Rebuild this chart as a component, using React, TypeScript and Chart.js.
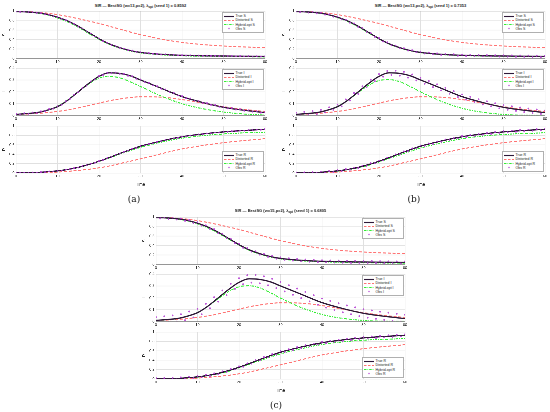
import React, { useEffect, useRef } from 'react';
import { Chart, registerables } from 'chart.js';

Chart.register(...registerables);

// knots of the smooth curves (time)
const curveTimes = [0, 2.5, 5, 7.5, 10, 12.5, 15, 17.5, 20, 22.5, 25, 27.5, 30, 35, 40, 45, 50, 55, 60];
// observation times
const obsTimes = [
  0, 1, 2, 3, 4, 5, 6, 7, 8, 9, 10, 11, 12, 13, 14, 15, 16, 17, 18, 19, 20,
  21, 22, 23, 24, 25, 26, 27, 28, 29, 30, 31, 32, 33, 34, 35, 36, 37, 38, 39, 40,
  41, 42, 43, 44, 45, 46, 47, 48, 49, 50, 51, 52, 53, 54, 55, 56, 57, 58, 59, 60,
];
const timeTicks = [0, 10, 20, 30, 40, 50, 60];

const trueS = [0.99, 0.982, 0.965, 0.93, 0.87, 0.79, 0.68, 0.55, 0.42, 0.31, 0.23, 0.17, 0.13, 0.09, 0.07, 0.06, 0.055, 0.05, 0.045];
const trueI = [0.01, 0.017, 0.025, 0.045, 0.075, 0.13, 0.2, 0.27, 0.33, 0.36, 0.355, 0.335, 0.3, 0.23, 0.16, 0.11, 0.07, 0.045, 0.025];
const trueR = [0, 0.003, 0.01, 0.025, 0.045, 0.075, 0.12, 0.18, 0.25, 0.33, 0.415, 0.495, 0.57, 0.68, 0.77, 0.83, 0.875, 0.905, 0.93];

const distortedS = [1.0, 0.99, 0.975, 0.955, 0.925, 0.885, 0.84, 0.79, 0.74, 0.68, 0.62, 0.56, 0.505, 0.41, 0.34, 0.295, 0.265, 0.245, 0.23];
const distortedI = [0.01, 0.013, 0.018, 0.025, 0.035, 0.048, 0.065, 0.085, 0.105, 0.125, 0.14, 0.152, 0.158, 0.155, 0.135, 0.105, 0.075, 0.052, 0.035];
const distortedR = [0, 0.002, 0.005, 0.01, 0.02, 0.035, 0.055, 0.08, 0.11, 0.15, 0.2, 0.25, 0.3, 0.41, 0.51, 0.585, 0.645, 0.69, 0.73];

const hybridS_a = [0.99, 0.98, 0.96, 0.92, 0.855, 0.77, 0.66, 0.53, 0.405, 0.3, 0.22, 0.16, 0.12, 0.08, 0.06, 0.05, 0.045, 0.04, 0.035];
const hybridI_a = [0.01, 0.017, 0.026, 0.046, 0.078, 0.133, 0.2, 0.265, 0.315, 0.33, 0.318, 0.285, 0.245, 0.165, 0.1, 0.058, 0.03, 0.013, 0.005];
const hybridR_a = [0, 0.003, 0.01, 0.025, 0.045, 0.075, 0.12, 0.175, 0.245, 0.32, 0.4, 0.475, 0.545, 0.655, 0.74, 0.795, 0.83, 0.855, 0.87];

const hybridS_b = [0.99, 0.98, 0.962, 0.925, 0.862, 0.778, 0.668, 0.54, 0.415, 0.305, 0.225, 0.165, 0.125, 0.085, 0.065, 0.055, 0.05, 0.045, 0.042];
const hybridI_b = [0.01, 0.016, 0.025, 0.045, 0.078, 0.13, 0.195, 0.255, 0.295, 0.303, 0.285, 0.245, 0.2, 0.12, 0.062, 0.028, 0.01, 0.003, 0.002];
const hybridR_b = [0, 0.003, 0.01, 0.022, 0.04, 0.07, 0.11, 0.165, 0.235, 0.31, 0.385, 0.46, 0.53, 0.64, 0.73, 0.785, 0.82, 0.84, 0.855];

const hybridS_c = [0.99, 0.979, 0.96, 0.922, 0.858, 0.772, 0.662, 0.535, 0.41, 0.3, 0.22, 0.16, 0.12, 0.08, 0.06, 0.048, 0.04, 0.035, 0.032];
const hybridI_c = [0.01, 0.016, 0.024, 0.044, 0.077, 0.128, 0.193, 0.253, 0.293, 0.302, 0.284, 0.244, 0.198, 0.118, 0.06, 0.027, 0.01, 0.003, 0.002];
const hybridR_c = [0, 0.003, 0.009, 0.022, 0.04, 0.07, 0.11, 0.165, 0.238, 0.315, 0.39, 0.465, 0.535, 0.645, 0.735, 0.79, 0.825, 0.845, 0.858];

const obsS_a = [0.995, 0.982, 0.99, 0.975, 0.978, 0.96, 0.957, 0.931, 0.922, 0.89, 0.874, 0.835, 0.811, 0.762, 0.73, 0.674, 0.634, 0.57, 0.528, 0.465, 0.425, 0.368, 0.334, 0.287, 0.263, 0.226, 0.209, 0.178, 0.168, 0.142, 0.134, 0.117, 0.117, 0.101, 0.1, 0.086, 0.09, 0.078, 0.081, 0.07, 0.073, 0.065, 0.069, 0.061, 0.065, 0.057, 0.062, 0.055, 0.06, 0.053, 0.058, 0.051, 0.056, 0.049, 0.054, 0.047, 0.052, 0.045, 0.05, 0.043, 0.048];
const obsI_a = [0.014, 0.009, 0.02, 0.015, 0.026, 0.021, 0.036, 0.037, 0.056, 0.059, 0.079, 0.091, 0.122, 0.141, 0.176, 0.196, 0.232, 0.252, 0.287, 0.304, 0.334, 0.341, 0.36, 0.356, 0.362, 0.351, 0.351, 0.335, 0.331, 0.31, 0.304, 0.282, 0.276, 0.254, 0.248, 0.226, 0.22, 0.198, 0.192, 0.17, 0.164, 0.146, 0.144, 0.126, 0.124, 0.106, 0.106, 0.09, 0.09, 0.074, 0.074, 0.061, 0.064, 0.051, 0.054, 0.041, 0.045, 0.033, 0.037, 0.025, 0.029];
const obsR_a = [0.004, 0.0, 0.006, 0.0, 0.011, 0.006, 0.02, 0.018, 0.034, 0.033, 0.049, 0.052, 0.073, 0.08, 0.105, 0.116, 0.147, 0.164, 0.199, 0.218, 0.254, 0.277, 0.318, 0.343, 0.385, 0.411, 0.451, 0.475, 0.514, 0.536, 0.574, 0.588, 0.618, 0.632, 0.662, 0.676, 0.702, 0.712, 0.738, 0.748, 0.774, 0.778, 0.798, 0.802, 0.822, 0.826, 0.843, 0.844, 0.861, 0.862, 0.879, 0.877, 0.891, 0.889, 0.903, 0.901, 0.914, 0.911, 0.924, 0.921, 0.934];

const obsS_b = [1.003, 0.975, 0.996, 0.968, 0.985, 0.952, 0.964, 0.925, 0.931, 0.881, 0.884, 0.826, 0.818, 0.755, 0.74, 0.667, 0.642, 0.562, 0.538, 0.457, 0.433, 0.36, 0.344, 0.279, 0.273, 0.217, 0.219, 0.17, 0.178, 0.133, 0.145, 0.108, 0.127, 0.092, 0.111, 0.077, 0.1, 0.069, 0.092, 0.061, 0.084, 0.055, 0.08, 0.051, 0.076, 0.047, 0.073, 0.045, 0.071, 0.043, 0.069, 0.041, 0.067, 0.039, 0.065, 0.037, 0.063, 0.035, 0.061, 0.033, 0.059];
const obsI_b = [0.025, 0.002, 0.031, 0.008, 0.038, 0.012, 0.048, 0.026, 0.07, 0.048, 0.092, 0.078, 0.136, 0.128, 0.19, 0.183, 0.247, 0.238, 0.302, 0.29, 0.35, 0.328, 0.375, 0.342, 0.378, 0.336, 0.368, 0.32, 0.346, 0.296, 0.318, 0.268, 0.291, 0.24, 0.263, 0.212, 0.234, 0.184, 0.206, 0.156, 0.178, 0.134, 0.158, 0.114, 0.138, 0.094, 0.12, 0.078, 0.104, 0.062, 0.088, 0.049, 0.078, 0.04, 0.068, 0.03, 0.059, 0.022, 0.051, 0.014, 0.043];
const obsR_b = [0.012, -0.01, 0.015, -0.008, 0.02, -0.003, 0.03, 0.008, 0.045, 0.022, 0.06, 0.041, 0.084, 0.069, 0.116, 0.105, 0.158, 0.153, 0.21, 0.207, 0.265, 0.266, 0.329, 0.332, 0.396, 0.4, 0.462, 0.464, 0.525, 0.525, 0.585, 0.577, 0.629, 0.621, 0.673, 0.665, 0.713, 0.701, 0.749, 0.737, 0.785, 0.767, 0.809, 0.791, 0.833, 0.815, 0.854, 0.833, 0.872, 0.851, 0.89, 0.866, 0.902, 0.878, 0.914, 0.89, 0.925, 0.9, 0.935, 0.91, 0.945];

const obsS_c = [1.008, 0.972, 1.001, 0.962, 0.99, 0.948, 0.97, 0.92, 0.938, 0.876, 0.892, 0.82, 0.826, 0.75, 0.746, 0.662, 0.65, 0.556, 0.545, 0.45, 0.44, 0.352, 0.35, 0.272, 0.28, 0.21, 0.226, 0.163, 0.185, 0.126, 0.152, 0.101, 0.134, 0.085, 0.118, 0.07, 0.107, 0.062, 0.099, 0.054, 0.091, 0.048, 0.087, 0.044, 0.083, 0.04, 0.08, 0.037, 0.078, 0.035, 0.076, 0.034, 0.074, 0.032, 0.072, 0.03, 0.07, 0.028, 0.068, 0.026, 0.066];
const obsI_c = [0.038, -0.01, 0.045, -0.004, 0.052, 0.0, 0.062, 0.012, 0.085, 0.035, 0.108, 0.062, 0.15, 0.112, 0.205, 0.168, 0.262, 0.222, 0.318, 0.275, 0.365, 0.315, 0.39, 0.328, 0.392, 0.322, 0.381, 0.305, 0.36, 0.282, 0.334, 0.254, 0.306, 0.226, 0.278, 0.198, 0.25, 0.17, 0.222, 0.142, 0.194, 0.118, 0.174, 0.098, 0.154, 0.078, 0.136, 0.062, 0.12, 0.046, 0.104, 0.033, 0.094, 0.024, 0.084, 0.014, 0.075, 0.006, 0.066, 0.0, 0.058];
const obsR_c = [0.018, -0.016, 0.02, -0.012, 0.026, -0.008, 0.035, 0.004, 0.05, 0.018, 0.066, 0.036, 0.09, 0.064, 0.121, 0.1, 0.163, 0.148, 0.215, 0.202, 0.27, 0.261, 0.334, 0.327, 0.401, 0.395, 0.467, 0.459, 0.53, 0.52, 0.59, 0.572, 0.634, 0.616, 0.678, 0.66, 0.718, 0.696, 0.754, 0.732, 0.79, 0.762, 0.814, 0.786, 0.838, 0.81, 0.859, 0.828, 0.877, 0.846, 0.895, 0.861, 0.907, 0.873, 0.919, 0.885, 0.93, 0.895, 0.94, 0.905, 0.95];

const FONT = "'Liberation Sans', Arial, sans-serif";
const COLORS = {
  truth: '#2e1838',
  distorted: '#ff7373',
  hybrid: '#33ee33',
  obs: 'rgba(180, 60, 210, 0.85)',
};

const PAD_L = 16;
const PAD_T = 4;
const PAD_R = 6;

type Comp = 'S' | 'I' | 'R';

interface SubplotProps {
  left: number;
  top: number;
  width: number;
  height: number;
  comp: Comp;
  truth: number[];
  distorted: number[];
  hybrid: number[];
  obs: number[];
  showTime: boolean;
}

const toXY = (xs: number[], ys: number[]) => xs.map((x, i) => ({ x, y: ys[i] }));

const boxPlugin = {
  id: 'box',
  afterDraw(chart: any) {
    const { ctx, chartArea } = chart;
    ctx.save();
    ctx.strokeStyle = '#8c8c8c';
    ctx.lineWidth = 0.6;
    ctx.strokeRect(chartArea.left, chartArea.top, chartArea.right - chartArea.left, chartArea.bottom - chartArea.top);
    ctx.restore();
  },
};

const LegendSample: React.FC<{ kind: string }> = ({ kind }) => (
  <svg width={10} height={3} style={{ display: 'block', flex: 'none' }}>
    {kind === 'obs' ? (
      <circle cx={5} cy={1.5} r={0.8} fill={COLORS.obs} />
    ) : (
      <line
        x1={0}
        x2={10}
        y1={1.5}
        y2={1.5}
        stroke={kind === 'truth' ? COLORS.truth : kind === 'distorted' ? COLORS.distorted : COLORS.hybrid}
        strokeWidth={kind === 'truth' ? 1.1 : 1}
        strokeDasharray={kind === 'distorted' ? '2.5 1.5' : kind === 'hybrid' ? '2.5 1 0.7 1' : undefined}
      />
    )}
  </svg>
);

const Subplot: React.FC<SubplotProps> = ({ left, top, width, height, comp, truth, distorted, hybrid, obs, showTime }) => {
  const canvasRef = useRef<HTMLCanvasElement | null>(null);
  const padB = showTime ? 14 : 6.5;
  const yMax = comp === 'I' ? 0.4 : 1;
  const yStep = comp === 'I' ? 0.1 : 0.2;

  useEffect(() => {
    if (!canvasRef.current) return;
    const chart = new Chart(canvasRef.current, {
      type: 'line',
      data: {
        datasets: [
          {
            label: `Obs ${comp}`,
            data: toXY(obsTimes, obs),
            showLine: false,
            pointRadius: 0.9,
            pointBorderWidth: 0,
            pointBackgroundColor: COLORS.obs,
            order: 0,
          },
          {
            label: `True ${comp}`,
            data: toXY(curveTimes, truth),
            borderColor: COLORS.truth,
            borderWidth: 1.25,
            pointRadius: 0,
            cubicInterpolationMode: 'monotone',
            order: 1,
          },
          {
            label: `Hybrid-opt ${comp}`,
            data: toXY(curveTimes, hybrid),
            borderColor: COLORS.hybrid,
            borderWidth: 1,
            borderDash: [2.5, 1, 0.7, 1],
            pointRadius: 0,
            cubicInterpolationMode: 'monotone',
            order: 2,
          },
          {
            label: `Distorted ${comp}`,
            data: toXY(curveTimes, distorted),
            borderColor: COLORS.distorted,
            borderWidth: 1,
            borderDash: [3, 1.8],
            pointRadius: 0,
            cubicInterpolationMode: 'monotone',
            order: 3,
          },
        ],
      },
      options: {
        animation: false,
        responsive: true,
        maintainAspectRatio: false,
        devicePixelRatio: 3,
        layout: { padding: { top: PAD_T, right: PAD_R, left: 0, bottom: 0 } },
        plugins: { legend: { display: false }, tooltip: { enabled: false } },
        scales: {
          x: {
            type: 'linear',
            min: 0,
            max: 60,
            afterBuildTicks: (s: any) => {
              s.ticks = timeTicks.map((v) => ({ value: v }));
            },
            afterFit: (s: any) => {
              s.height = padB;
            },
            ticks: { font: { family: FONT, size: 3.8 }, color: '#262626', padding: 1, maxRotation: 0 },
            grid: { color: '#e0e0e0', lineWidth: 0.5, drawTicks: false },
            border: { display: false },
            title: {
              display: showTime,
              text: 'Time',
              font: { family: FONT, size: 4.2 },
              color: '#262626',
              padding: { top: 1.5, bottom: 0 },
            },
          },
          y: {
            min: 0,
            max: yMax,
            ticks: {
              stepSize: yStep,
              autoSkip: false,
              font: { family: FONT, size: 3.8 },
              color: '#262626',
              padding: 1.5,
              callback: (v: any) => String(Number(Number(v).toFixed(2))),
            },
            afterFit: (s: any) => {
              s.width = PAD_L;
            },
            grid: { color: '#e0e0e0', lineWidth: 0.5, drawTicks: false },
            border: { display: false },
            title: {
              display: true,
              text: comp,
              font: { family: FONT, size: 4.2 },
              color: '#262626',
              padding: 1.5,
            },
          },
        },
      },
      plugins: [boxPlugin],
    } as any);
    return () => chart.destroy();
  }, [comp, truth, distorted, hybrid, obs, showTime, padB, yMax, yStep]);

  const legendTop = comp === 'R' ? top + height - 22 : top + 1;
  const entries = [
    { kind: 'truth', text: `True ${comp}` },
    { kind: 'distorted', text: `Distorted ${comp}` },
    { kind: 'hybrid', text: `Hybrid-opt ${comp}` },
    { kind: 'obs', text: `Obs ${comp}` },
  ];

  return (
    <>
      <div
        style={{
          position: 'absolute',
          left: left - PAD_L,
          top: top - PAD_T,
          width: width + PAD_L + PAD_R,
          height: height + PAD_T + padB,
        }}
      >
        <canvas ref={canvasRef} />
      </div>
      <div
        style={{
          position: 'absolute',
          left: left + width - 43,
          top: legendTop,
          width: 42,
          height: 21,
          boxSizing: 'border-box',
          background: '#fff',
          border: '0.5px solid #b0b0b0',
          padding: '1px 1px',
          display: 'flex',
          flexDirection: 'column',
          justifyContent: 'space-around',
        }}
      >
        {entries.map((e) => (
          <div key={e.kind} style={{ display: 'flex', alignItems: 'center', gap: 1.5, height: 4.5 }}>
            <LegendSample kind={e.kind} />
            <span style={{ fontFamily: FONT, fontSize: 3.5, color: '#222', lineHeight: '4px', whiteSpace: 'nowrap' }}>
              {e.text}
            </span>
          </div>
        ))}
      </div>
    </>
  );
};

interface PanelProps {
  left: number;
  tops: number[];
  titleTop: number;
  w: number;
  lambda: string;
  label: string;
  labelTop: number;
  labelX: number;
  hybrid: number[][];
  obs: number[][];
}

const PLOT_W = 249;
const PLOT_H = 47;

const Panel: React.FC<PanelProps> = ({ left, tops, titleTop, w, lambda, label, labelTop, labelX, hybrid, obs }) => {
  const comps: Comp[] = ['S', 'I', 'R'];
  const truths = [trueS, trueI, trueR];
  const dists = [distortedS, distortedI, distortedR];
  return (
    <>
      <div
        style={{
          position: 'absolute',
          left: left,
          width: PLOT_W,
          top: titleTop,
          textAlign: 'center',
          fontFamily: FONT,
          fontWeight: 'bold',
          fontSize: 4,
          color: '#1a1a1a',
          lineHeight: '5px',
          whiteSpace: 'nowrap',
        }}
      >
        SIR — BestSG (w={w},p=2), λ<sub style={{ fontSize: 3, verticalAlign: '-1px' }}>opt</sub> (seed 1) = {lambda}
      </div>
      {comps.map((c, i) => (
        <Subplot
          key={c}
          left={left}
          top={tops[i]}
          width={PLOT_W}
          height={PLOT_H}
          comp={c}
          truth={truths[i]}
          distorted={dists[i]}
          hybrid={hybrid[i]}
          obs={obs[i]}
          showTime={i === 2}
        />
      ))}
      <div
        style={{
          position: 'absolute',
          left: labelX - 20,
          width: 40,
          top: labelTop,
          textAlign: 'center',
          fontFamily: "'DejaVu Serif', 'Liberation Serif', serif",
          fontSize: 9,
          lineHeight: '10px',
          color: '#111',
        }}
      >
        {label}
      </div>
    </>
  );
};

const App: React.FC = () => (
  <div style={{ position: 'absolute', left: 0, top: 0, width: 550, height: 412, background: '#fff', overflow: 'hidden' }}>
    <Panel
      left={16}
      tops={[11, 68, 126]}
      titleTop={3}
      w={13}
      lambda="0.8592"
      label="(a)"
      labelTop={194}
      labelX={134}
      hybrid={[hybridS_a, hybridI_a, hybridR_a]}
      obs={[obsS_a, obsI_a, obsR_a]}
    />
    <Panel
      left={296}
      tops={[11, 68, 126]}
      titleTop={3}
      w={13}
      lambda="0.7353"
      label="(b)"
      labelTop={194}
      labelX={414}
      hybrid={[hybridS_b, hybridI_b, hybridR_b]}
      obs={[obsS_b, obsI_b, obsR_b]}
    />
    <Panel
      left={156}
      tops={[217, 274, 332]}
      titleTop={208}
      w={15}
      lambda="0.6805"
      label="(c)"
      labelTop={400}
      labelX={276}
      hybrid={[hybridS_c, hybridI_c, hybridR_c]}
      obs={[obsS_c, obsI_c, obsR_c]}
    />
  </div>
);

export default App;
